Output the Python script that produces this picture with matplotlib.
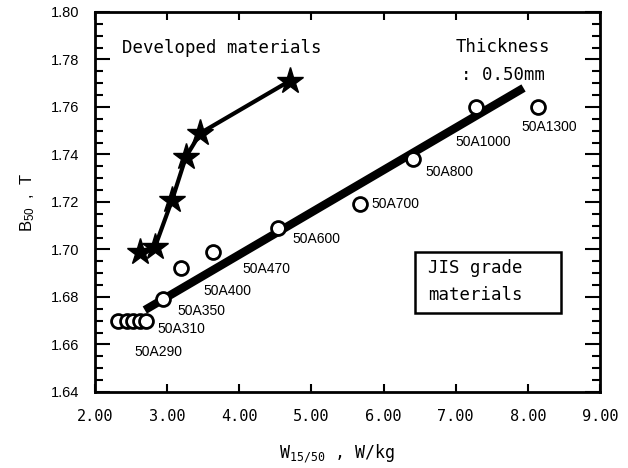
import matplotlib
matplotlib.use('Agg')
import matplotlib.pyplot as plt
from matplotlib.patches import Rectangle
from matplotlib.ticker import MultipleLocator, FormatStrFormatter

# developed materials (stars)
dev_w = [2.62, 2.83, 3.07, 3.26, 3.46, 4.70]
dev_b = [1.699, 1.701, 1.721, 1.739, 1.749, 1.771]

# JIS grade materials (open circles)
jis_w = [2.32, 2.44, 2.53, 2.62, 2.71, 2.94, 3.19, 3.64, 4.54, 5.67, 6.41, 7.28, 8.14]
jis_b = [1.67, 1.67, 1.67, 1.67, 1.67, 1.679, 1.692, 1.699, 1.709, 1.719, 1.738, 1.760, 1.760]

# grade labels and where they sit
grade_names = ['50A290', '50A310', '50A350', '50A400', '50A470', '50A600',
               '50A700', '50A800', '50A1000', '50A1300']
grade_x = [2.54, 2.87, 3.14, 3.50, 4.04, 4.73, 5.83, 6.58, 6.99, 7.91]
grade_y = [1.657, 1.6665, 1.6741, 1.6825, 1.6918, 1.7044, 1.719, 1.7326, 1.7453, 1.7516]

# fitted trend line of JIS grades
fit_w = [2.69, 7.94]
fit_b = [1.6745, 1.768]

mono = 'DejaVu Sans Mono'
sans = 'Liberation Sans'

fig = plt.figure(figsize=(6.28, 4.68), dpi=100)
ax = fig.add_axes([0.1513, 0.1624, 0.8041, 0.812])

ax.plot(fit_w, fit_b, color='black', lw=6, solid_capstyle='butt', zorder=2)
ax.plot(jis_w, jis_b, 'o', ms=10, mfc='white', mec='black', mew=2, zorder=3)
ax.plot(dev_w, dev_b, color='black', lw=3, zorder=4)
ax.plot(dev_w, dev_b, '*', ms=20, color='black', zorder=5)

for name, x, y in zip(grade_names, grade_x, grade_y):
    ax.text(x, y, name, family=sans, fontsize=10, ha='left', va='center')

ax.text(2.37, 1.7848, 'Developed materials', family=mono, fontsize=12.5,
        ha='left', va='center')
ax.text(7.00, 1.7853, 'Thickness', family=mono, fontsize=12.5, ha='left', va='center')
ax.text(7.08, 1.7735, ': 0.50mm', family=mono, fontsize=12.5, ha='left', va='center')

ax.add_patch(Rectangle((0.634, 0.208), 0.289, 0.161, transform=ax.transAxes,
                       fill=False, ec='black', lw=1.8, zorder=6))
ax.text(0.66, 0.325, 'JIS grade', transform=ax.transAxes, family=mono,
        fontsize=12.5, ha='left', va='center')
ax.text(0.66, 0.255, 'materials', transform=ax.transAxes, family=mono,
        fontsize=12.5, ha='left', va='center')

ax.set_xlim(2, 9)
ax.set_ylim(1.64, 1.80)
ax.xaxis.set_major_locator(MultipleLocator(1))
ax.xaxis.set_major_formatter(FormatStrFormatter('%.2f'))
ax.yaxis.set_major_locator(MultipleLocator(0.02))
ax.yaxis.set_minor_locator(MultipleLocator(0.005))
ax.yaxis.set_major_formatter(FormatStrFormatter('%.2f'))

ax.tick_params(axis='x', which='major', direction='in', top=True, length=6,
               width=1.5, pad=12, labelsize=11)
ax.tick_params(axis='y', which='major', direction='in', right=True, length=11,
               width=1.5, pad=11, labelsize=10.5)
ax.tick_params(axis='y', which='minor', direction='in', right=True, length=6, width=1.5)
for lab in ax.get_xticklabels():
    lab.set_family(mono)
for lab in ax.get_yticklabels():
    lab.set_family(sans)
for sp in ax.spines.values():
    sp.set_linewidth(2)

ax.set_xlabel(r'$\mathregular{W_{15/50}}$ , W/kg', family=mono, fontsize=12)
ax.xaxis.label.set_va('center')
ax.xaxis.set_label_coords(0.48, -0.163)
ax.set_ylabel(r'$\mathregular{B_{50}}$  ,  T', family=sans, fontsize=12, labelpad=10)

fig.savefig('out.png', dpi=100)
